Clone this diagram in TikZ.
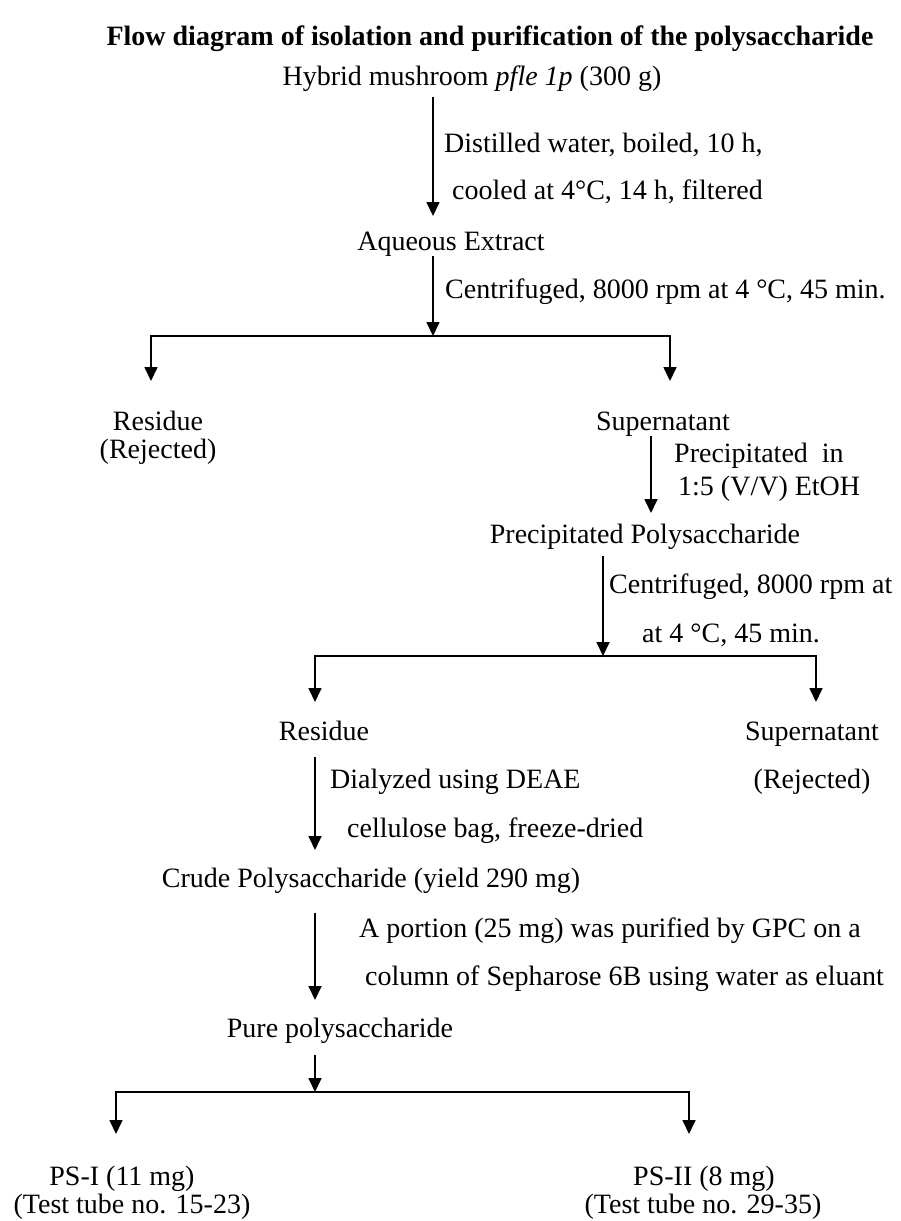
\documentclass[tikz,border=0pt]{standalone}
\usepackage{fontspec}
\setmainfont{Liberation Serif}
\usetikzlibrary{arrows.meta}
\begin{document}
\begin{tikzpicture}[x=1pt,y=-1pt,
  txt/.style={inner sep=0pt,anchor=base,font=\fontsize{28}{34}\selectfont},
  note/.style={inner sep=0pt,anchor=base west,font=\fontsize{28}{34}\selectfont},
  flow/.style={line width=1.7pt,-{Triangle[width=13pt,length=14pt]}}]
\useasboundingbox (0,0) rectangle (900,1221);

% heading
\node[txt,font=\fontsize{28}{34}\selectfont\bfseries] (title) at (490,45)
  {Flow diagram of isolation and purification of the polysaccharide};

% products
\node[txt] (hyb)   at (472,85)  {Hybrid mushroom \textit{pfle 1p} (300 g)};
\node[txt] (aq)    at (451,250) {Aqueous Extract};
\node[txt] (res1)  at (158,430) {Residue};
\node[txt] (rej1)  at (158,458) {(Rejected)};
\node[txt] (sup1)  at (663,430) {Supernatant};
\node[txt] (pp)    at (645,543) {Precipitated Polysaccharide};
\node[txt] (res2)  at (324,740) {Residue};
\node[txt] (sup2)  at (812,740) {Supernatant};
\node[txt] (rej2)  at (812,788) {(Rejected)};
\node[txt] (crude) at (371,887) {Crude Polysaccharide (yield 290 mg)};
\node[txt] (pure)  at (340,1037) {Pure polysaccharide};
\node[txt] (ps1)   at (122,1185) {PS-I (11 mg)};
\node[txt] (tt1)   at (132,1213) {(Test tube no. 15-23)};
\node[txt] (ps2)   at (704,1185) {PS-II (8 mg)};
\node[txt] (tt2)   at (703,1213) {(Test tube no. 29-35)};

% step conditions
\node[note] (s1a) at (444,152) {Distilled water, boiled, 10 h,};
\node[note] (s1b) at (452,199) {cooled at 4°C, 14 h, filtered};
\node[note] (s2)  at (445,298) {Centrifuged, 8000 rpm at 4 °C, 45 min.};
\node[note] (s3a) at (674,462) {Precipitated~~in};
\node[note] (s3b) at (678,495) {1:5 (V/V) EtOH};
\node[note] (s4a) at (609,593) {Centrifuged, 8000 rpm at};
\node[note] (s4b) at (642,642) {at 4 °C, 45 min.};
\node[note] (s5a) at (330,788) {Dialyzed using DEAE};
\node[note] (s5b) at (347,837) {cellulose bag, freeze-dried};
\node[note] (s6a) at (359,937) {A portion (25 mg) was purified by GPC on a};
\node[note] (s6b) at (365,985) {column of Sepharose 6B using water as eluant};

% arrow end points
\coordinate (a1s) at (433,97);   \coordinate (a1e) at (433,216);
\coordinate (a2s) at (433,256);  \coordinate (j1)  at (433,336);
\coordinate (t1l) at (151,381);  \coordinate (t1r) at (670,381);
\coordinate (a3s) at (651,436);  \coordinate (a3e) at (651,513);
\coordinate (a4s) at (603,556);  \coordinate (j2)  at (603,656);
\coordinate (t2l) at (315,702);  \coordinate (t2r) at (816,702);
\coordinate (a5s) at (315,757);  \coordinate (a5e) at (315,850);
\coordinate (a6s) at (315,913);  \coordinate (a6e) at (315,1000);
\coordinate (a7s) at (315,1055); \coordinate (j3)  at (315,1092);
\coordinate (t3l) at (116,1134); \coordinate (t3r) at (689,1134);

% connectors
\draw[flow] (a1s) -- (a1e);
\draw[flow] (a2s) -- (j1);
\draw[flow] (j1) -| (t1l);
\draw[flow] (j1) -| (t1r);
\draw[flow] (a3s) -- (a3e);
\draw[flow] (a4s) -- (j2);
\draw[flow] (j2) -| (t2l);
\draw[flow] (j2) -| (t2r);
\draw[flow] (a5s) -- (a5e);
\draw[flow] (a6s) -- (a6e);
\draw[flow] (a7s) -- (j3);
\draw[flow] (j3) -| (t3l);
\draw[flow] (j3) -| (t3r);
\end{tikzpicture}
\end{document}
